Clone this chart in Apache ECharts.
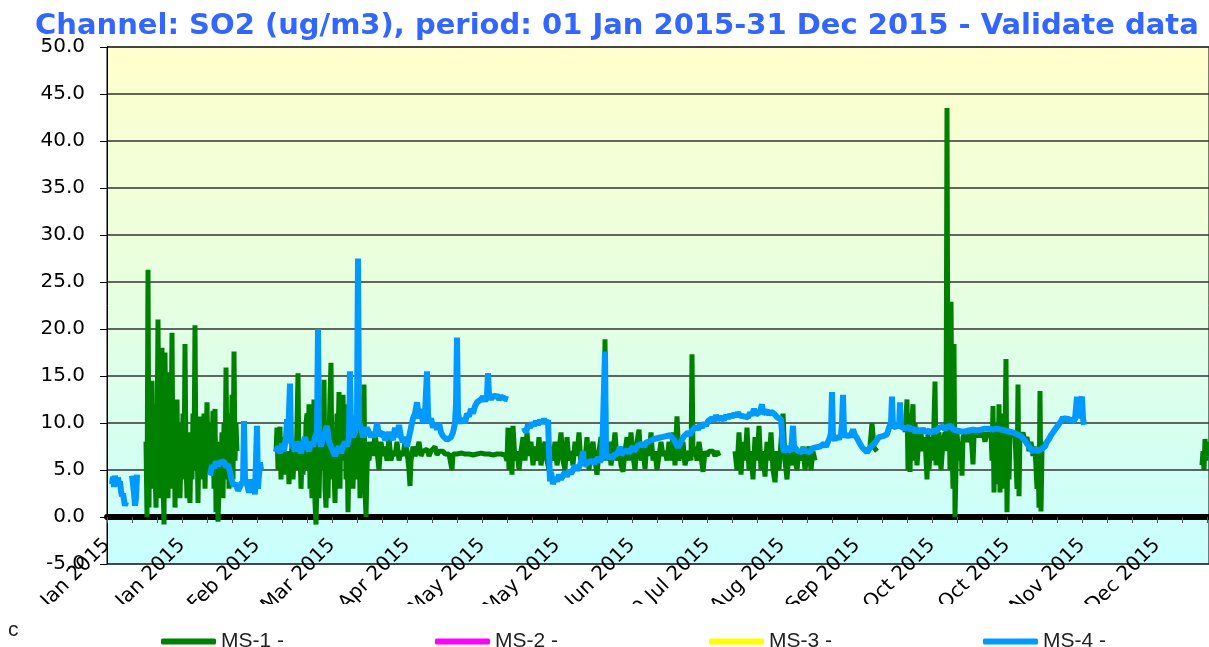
<!DOCTYPE html>
<html><head><meta charset="utf-8">
<script src="https://cdn.jsdelivr.net/npm/echarts@6/dist/echarts.min.js"></script>
<style>html,body{margin:0;padding:0;background:#fff}#c{width:1209px;height:647px}</style>
</head><body><div id="c"></div>
<script>
// time index t = number of 8-hour steps since 01 Jan 2015 00:00
const STEP_HOURS = 8;
const T_MAX = 1102;
const yTicks = [-5, 0, 5, 10, 15, 20, 25, 30, 35, 40, 45, 50];
const seriesNames = ['MS-1 -', 'MS-2 -', 'MS-3 -', 'MS-4 -'];
const monthNames = ['Jan','Feb','Mar','Apr','May','Jun','Jul','Aug','Sep','Oct','Nov','Dec'];

function seq(start, values) { return values.map((v, i) => [start + i, v]); }

// ---- MS-1 (green) ----
const ms1_jan = seq(39, [8,0,26.3,1,14,7,14.5,3,12,5,1,8,21,6,15,2,18,4,-0.8,17.5,6,15.4,2,10,3,8,19.6,5,12,1,9,12.5,3,10,2,7,5,11,4,18.4,6,2,9,3,1.5,8,4,11,6,20.4,5,10,1.5,8,10.7,4,9,5.5,11,3,8,12.2,6,9,4.5,10,7,11.3,3,11.5,0.5,6,-0.5,3,8,5,9,2,10,4,15.9,6,11,3,9,5,13,4,17.6,6,10,7]);
const ms1_mar = seq(169, [7,9.5,5,8,9.6,4,7,6,8.5,4.5,7,5,6.5,3.5,7,5.5,8,4,6,8,5,10,15.3,5,7,3,6,4.5,8,5,10,11,5.5,12,3,6,2,8,12.5,1.5,-0.8,4,9,2,7,10,5,9,14.6,3,1,6,2,8,13,16.4,4,9,5,1.5,7,11,8,13.3,3,12,6,13,8,12,4,9,0.5,6,9,5,8,3,7,9,4,8,6,9.5,2,6,13,8,14.1,3,0,5,8,6,7]);
const ms1_apr = [[264,8],[266,6.5],[268,9],[270,7],[272,5],[274,8],[276,6.5],[278,7.5],[280,6],[282,8.5],[284,6],[286,7],[288,6.5],[290,8],[292,6],[294,7],[296,6.5],[298,8],[300,7],[302,5],[303,3.3],[304,6],[306,7.5],[308,6.5],[310,7],[312,8],[314,6.5],[316,7],[318,6.8],[320,7.2],[322,6.5],[324,7],[326,6.8],[328,7.5],[330,6.6],[332,7],[334,6.8],[336,7],[338,6.7],[340,6.9],[342,6.7],[344,6.8],[345,5],[346,6.7],[348,6.8],[350,6.7],[352,6.6],[355,6.8],[358,6.7],[362,6.7],[366,6.6],[370,6.7],[374,6.8],[378,6.7],[382,6.7],[386,6.6],[390,6.7],[394,6.7],[398,6.6]];
const ms1_jun = [[400,6],[401,9.5],[402,5],[403,8],[405,4.5],[406,9.7],[408,6],[410,7],[412,5],[413,4.8],[414,7],[416,8.5],[418,6],[420,9],[422,6.5],[424,8],[426,5.5],[428,7.5],[430,6],[432,8.5],[434,5.5],[436,7],[438,8],[440,6],[442,5],[444,7.5],[446,6],[448,8],[450,5.5],[452,7],[454,9],[456,6],[458,5],[460,8.5],[462,6],[464,7],[466,5.5],[468,8],[470,6.5],[472,9],[474,5.5],[476,7],[478,6],[480,8.5],[482,5],[484,7],[486,8],[488,6],[490,4.5],[492,7],[494,8.5],[496,6],[497,7],[498,18.9],[499,7],[500,6],[502,8],[504,5.5],[506,7],[508,9],[510,6],[512,7.5],[514,5.5],[516,4.8],[518,7],[520,8.5],[522,6],[524,9],[526,6.5],[528,5],[530,8],[532,9.3],[534,6],[536,7.5],[538,5.1],[540,8],[542,6.5],[544,9],[546,6],[548,7],[550,5],[552,4.8],[554,8],[556,6.5],[558,7],[560,6],[562,8],[564,6],[566,9],[568,5.5],[570,10.7],[572,6],[574,7],[576,8],[578,5.5],[580,6.5],[582,7],[584,6],[585,17.3],[586,6.5],[588,7.5],[590,6],[592,8],[594,6.5],[596,4.8],[598,7],[600,6.5],[602,7],[604,6.8],[606,7],[608,6.5],[610,7],[612,6.5]];
const ms1_aug = [[628,7],[630,5],[632,9],[634,4.5],[636,8],[638,6],[640,9.5],[642,5],[644,7],[646,4],[648,8.5],[650,6],[652,9.7],[654,5],[656,7],[658,4.3],[660,8],[662,6],[664,9],[666,5],[668,3.7],[670,7],[672,5],[674,8],[676,11],[678,6],[680,4],[682,7],[684,5.5],[686,8],[688,6],[690,5],[692,7],[694,6],[696,7.5],[698,5],[700,6.5],[702,7.5],[704,5],[706,7],[708,6]];
const ms1_sep = [[760,7],[763,7.5],[765,10],[767,7.4],[770,7]];
const ms1_oct = [[798,9],[800,12.5],[801,5],[802,11],[803,4.8],[804,9],[806,12],[807,6],[808,10],[810,5.5],[812,8.5],[814,9],[816,7],[818,8.5],[820,4],[821,9],[822,5],[824,8.5],[826,6],[828,14.4],[829,5.5],[830,8.5],[832,9],[834,5],[836,8],[838,9],[839,7],[840,43.5],[841,9],[842,12],[843,5],[844,22.9],[845,8],[846,3],[847,18.4],[848,0],[849,5],[850,9],[852,6],[854,8],[855,4.4],[856,8.5],[858,9],[860,8],[862,8.5],[864,9],[866,5.6],[867,8.5],[868,9],[870,8.5],[872,9],[874,8.5],[876,9],[878,8],[880,9],[882,8.5],[884,9],[885,6],[886,11.8],[887,2.6],[888,10],[889,3.5],[890,9],[891,4],[892,12],[893,2.6],[894,9],[895,5],[896,11],[897,3],[898,9],[899,16.8],[900,0.5],[901,9],[902,4],[903,8.5],[904,9],[906,8.5],[908,9],[910,3],[911,14.1],[912,2.2],[913,9],[914,8.5],[916,9],[918,8],[920,8.5],[922,7],[924,8],[926,6.5],[928,7.5],[930,3],[931,7],[932,1],[933,13.4],[934,0.6],[935,7],[936,8]];
const ms1_dec = [[1095,5.5],[1096,7],[1097,5],[1098,8.3],[1099,6],[1100,7.5],[1101,6.5],[1102,8]];

// ---- MS-4 (blue) ----
const ms4_jan1 = [[5,3.5],[6,4.3],[7,3.2],[8,4.4],[9,3.6],[10,3.3],[11,4.2],[12,3.5],[13,3.8],[14,2.8],[15,2.2],[16,2.5],[17,1.8],[18,1.2],[19,1.6]];
const ms4_jan2 = [[25,4.4],[26,3.5],[27,2.5],[28,1.2],[29,2],[30,4.5]];
const ms4_feb = [[103,4.4],[105,5.5],[107,5.2],[109,5.9],[111,5.5],[113,5.8],[115,5.6],[117,5.9],[119,5.3],[121,5.6],[123,4.8],[125,3.8],[127,3.3],[129,3.6],[131,2.8],[133,3.2],[135,3.7],[136,3.4],[137,10.2],[138,4],[140,3.5],[142,2.6],[143,3],[144,4],[145,3.5],[146,3],[147,3.8],[148,2.4],[149,2.6],[150,9.7],[151,3],[152,4.5],[153,5.8],[154,5]];
const ms4_mar = [[169,6.9],[171,7.5],[173,6.8],[175,7.8],[177,7],[179,8.5],[180,10.4],[181,8],[183,14.2],[184,8],[186,7.5],[188,7],[190,8],[192,7.5],[194,6.8],[196,7.8],[198,8.5],[200,7.5],[202,7],[204,8],[206,7.5],[208,8.5],[210,9],[211,20],[212,8.5],[214,7.5],[216,8.5],[218,9],[220,9.7],[222,8],[224,7.5],[226,7],[228,6.5],[230,7],[232,7.5],[234,6.8],[236,7.5],[238,8],[240,7.5],[242,8.5],[243,15.5],[244,9],[246,8.5],[248,9],[250,11],[251,27.5],[252,10],[254,9.5],[256,8.5],[258,9],[260,9.5],[262,9],[264,8.5],[266,9],[268,8.5],[270,10],[272,8.7],[274,8.5],[276,9],[278,8.2],[280,8.5],[282,9],[284,8.6],[286,8.2],[288,9.5],[290,8.5],[292,9.8],[294,8.5],[296,8],[298,8.5],[300,7.5],[302,8.5],[304,9.5],[306,10.5],[308,11],[310,12.2],[312,10.5],[314,11.5],[316,10],[318,11],[320,15.5],[321,11],[322,10],[324,10.5],[326,9.5],[328,10],[330,9.3],[332,10],[334,9],[336,8.6],[338,8.8],[340,8.2],[342,8],[344,8.5],[346,9],[348,10],[349,12],[350,19.1],[351,11],[352,10.5],[354,10],[356,10.5],[358,10],[360,11],[362,10.7],[364,11.5],[366,11],[368,11.8],[370,12.2],[372,12],[374,12.5],[376,12.8],[378,12.3],[380,13],[381,15.3],[382,13],[384,12.5],[386,13],[388,12.7],[390,13],[392,12.5],[394,12.8],[396,13],[398,12.6],[400,12.7],[401,12.5]];
const ms4_may = [[417,9.5],[419,9],[421,9.8],[423,9.5],[425,10],[427,9.7],[429,10.2],[431,9.8],[433,10.3],[435,10],[437,10.4],[439,10],[441,10.3]];
const ms4_jun = [[443,3.8],[444,4.8],[446,3.5],[448,4.2],[450,3.8],[452,4.5],[454,4],[456,4.4],[458,4.8],[460,4.3],[462,5],[464,4.6],[466,5],[468,5.5],[470,5],[472,5.3],[474,5.8],[476,7],[477,5.5],[479,5.4],[481,5.8],[483,5.6],[485,6],[487,5.7],[489,6],[491,6.3],[493,5.9],[495,6.2],[497,6.4],[498,17.6],[499,6.3],[501,6.1],[503,6.5],[505,6.2],[507,6.6],[509,6.4],[511,6.8],[513,7.5],[514,6.6],[516,6.9],[518,6.7],[520,7.1],[522,6.8],[524,7.2],[526,7.5],[527,7.0],[529,7.3],[531,7.6],[533,7.4],[535,7.8],[537,7.5],[539,7.9],[541,7.7],[543,8.1],[545,7.9],[547,8.3],[549,8.1],[551,8.4],[553,8.2],[555,8.5],[557,8.3],[559,8.6],[561,8.4],[563,8.7],[565,8.5],[567,8.2],[569,7.8],[571,7.4],[573,7.6],[575,8.2],[577,8.6],[579,8.4],[581,9],[583,8.7],[585,9.2],[587,9],[589,9.6],[591,9.3],[593,9.8],[595,9.5],[597,10],[599,9.7],[601,10.2],[603,10],[605,10.5],[607,10.2],[609,10.8],[611,10.4],[613,10.2],[615,10.6],[617,10.3],[619,10.8],[621,10.5],[623,10.9],[625,10.6],[627,11],[629,10.7],[631,11.1],[633,10.8],[635,11],[637,10.7],[639,10.9],[641,10.6],[643,11.1],[645,10.8],[647,11.5],[649,10.9],[651,10.7],[653,11.2],[655,12],[656,11],[658,10.8],[660,11.3],[662,10.9],[664,11.2],[666,11.4],[668,10.9],[670,10.6],[672,10.8],[674,10.4],[676,7.5],[677,6.9],[679,7.4],[681,7.2],[684,7],[686,9.7],[687,7.5],[689,7.3],[691,7],[693,7.2],[695,6.9],[697,7.3],[699,7],[701,7.2],[703,6.9],[705,7.3],[707,7.1],[709,7.4],[711,7.2],[713,7.5],[715,7.3],[717,7.8],[719,7.5],[721,8],[723,8.5],[724,9],[725,13.3],[726,8.5],[728,8.2],[730,8.6],[732,8.3],[734,8.8],[735,10],[736,13],[737,9],[739,8.5],[741,8.8],[743,8.5],[745,9],[746,9.3],[748,8.7],[750,8.4],[752,8],[754,7.6],[756,7.3],[758,7.1],[760,6.9],[762,7.1],[764,7.5],[766,7.7],[768,7.9],[770,8.2],[772,8.5],[774,8.3],[776,8.6],[778,8.5],[780,8.8],[782,9.5],[784,10],[785,12.8],[786,9.5],[788,9.3],[790,9.8],[792,9.5],[793,12.2],[794,9.6],[796,9.8],[798,9.4],[800,9.3],[802,9.6],[804,9.2],[806,9.5],[808,9],[810,9.3],[812,9.5],[814,9.1],[816,9.4],[818,9],[820,8.8],[822,9.2],[824,8.9],[826,9.2],[828,9.4],[830,9.1],[832,9.5],[834,9.3],[836,9.6],[838,9.3],[840,9.6],[842,9.4],[844,9.7],[846,9.3],[848,9.5],[850,9.2],[852,9.4],[854,9.1],[856,9.3],[858,9.1],[860,9.3],[862,9.2],[864,9.4],[866,9.3],[868,9.5],[870,9.2],[872,9.4],[874,9.3],[876,9.5],[878,9.4],[880,9.6],[882,9.4],[884,9.5],[886,9.3],[888,9.5],[890,9.4],[892,9.6],[894,9.3],[896,9.5],[898,9.2],[900,9.4],[902,9.1],[904,9.3],[906,9],[908,9.2],[910,8.8],[912,9],[914,8.6],[916,8.4],[918,8.1],[920,7.8],[922,7.5],[924,7.2],[926,6.9],[928,7.3],[930,7],[932,6.8],[934,7.2],[936,7],[938,7.5],[940,8],[942,8.3],[944,8.7],[946,9],[948,9.3],[950,9.6],[952,9.9],[954,10.2],[956,10.6],[958,10.3],[960,10.6],[962,10.2],[964,10.5],[966,10.1],[968,10.4],[969,10.2],[970,12.8],[971,11],[972,10.5],[974,12.5],[975,12.8],[976,10.5],[977,9.8]];

function joinSegments(segs) {
  const out = [];
  segs.forEach((s, i) => {
    if (i > 0) out.push([s[0][0] - 0.5, null]);
    s.forEach(p => out.push(p));
  });
  return out;
}
const ms1Data = joinSegments([ms1_jan, ms1_mar.concat(ms1_apr, ms1_jun), ms1_aug, ms1_sep, ms1_oct, ms1_dec]);
const ms4Data = joinSegments([ms4_jan1, ms4_jan2, ms4_feb, ms4_mar, ms4_may.concat(ms4_jun)]);

function tLabel(t) {
  const d = new Date(Date.UTC(2015, 0, 1) + t * STEP_HOURS * 3600 * 1000);
  const dd = String(d.getUTCDate()).padStart(2, '0');
  return dd + ' ' + monthNames[d.getUTCMonth()] + ' ' + d.getUTCFullYear();
}

const chart = echarts.init(document.getElementById('c'), null, {renderer: 'canvas'});
chart.setOption({
  animation: false,
  backgroundColor: '#ffffff',
  title: {
    text: 'Channel: SO2 (ug/m3), period: 01 Jan 2015-31 Dec 2015 - Validate data',
    left: 30, top: 7,
    textStyle: {fontFamily: 'DejaVu Sans', fontWeight: 'bold', fontSize: 29, color: '#3366ff'}
  },
  grid: {
    left: 107, right: 0, top: 47, bottom: 83, show: true,
    outerBoundsMode: 'none', containLabel: false,
    borderColor: '#000', borderWidth: 1,
    backgroundColor: new echarts.graphic.LinearGradient(0, 0, 0, 1, [
      {offset: 0, color: '#ffffcc'}, {offset: 0.5, color: '#e6ffe2'}, {offset: 1, color: '#c8ffff'}
    ])
  },
  legend: {
    data: seriesNames, left: 156, top: 626, icon: 'roundRect',
    itemWidth: 55, itemHeight: 6, itemGap: 151, selectedMode: false, z: 10,
    textStyle: {fontFamily: 'Liberation Sans', fontSize: 21, color: '#222', width: 60}
  },
  xAxis: {
    type: 'value', min: 0, max: T_MAX, interval: 25,
    axisLine: {onZero: true, lineStyle: {color: '#000', width: 6}},
    axisTick: {show: true, length: 6, lineStyle: {color: '#555', width: 1}},
    splitLine: {show: false},
    axisLabel: {
      rotate: 45, margin: -22, fontFamily: 'DejaVu Sans', fontSize: 20, color: '#000',
      showMaxLabel: false,
      formatter: v => (v % 75 === 0 ? tLabel(v) : '')
    }
  },
  yAxis: {
    type: 'value', min: yTicks[0], max: yTicks[yTicks.length - 1], interval: 5,
    axisLine: {show: true, lineStyle: {color: '#000', width: 1}},
    axisTick: {show: true, length: 7, lineStyle: {color: '#000'}},
    splitLine: {show: true, lineStyle: {color: '#333', width: 1.5}},
    axisLabel: {margin: 22, fontFamily: 'DejaVu Sans', fontSize: 20, color: '#000', formatter: v => v.toFixed(1)}
  },
  graphic: [
    {type: 'rect', z: 3, shape: {x: 0, y: 604, width: 1209, height: 43}, style: {fill: '#fff'}},
    {type: 'text', z: 20, left: 8, top: 620, style: {text: 'c', font: '21px Liberation Sans', fill: '#222'}}
  ],
  series: [
    {name: seriesNames[0], type: 'line', data: ms1Data, showSymbol: false, color: '#008000',
     lineStyle: {width: 5, color: '#008000'}, connectNulls: false, z: 2},
    {name: seriesNames[1], type: 'line', data: [], showSymbol: false, color: '#ff00ff', lineStyle: {width: 5}},
    {name: seriesNames[2], type: 'line', data: [], showSymbol: false, color: '#ffff00', lineStyle: {width: 5}},
    {name: seriesNames[3], type: 'line', data: ms4Data, showSymbol: false, color: '#0099ff',
     lineStyle: {width: 6, color: '#0099ff'}, connectNulls: false, z: 3}
  ]
});
</script></body></html>
